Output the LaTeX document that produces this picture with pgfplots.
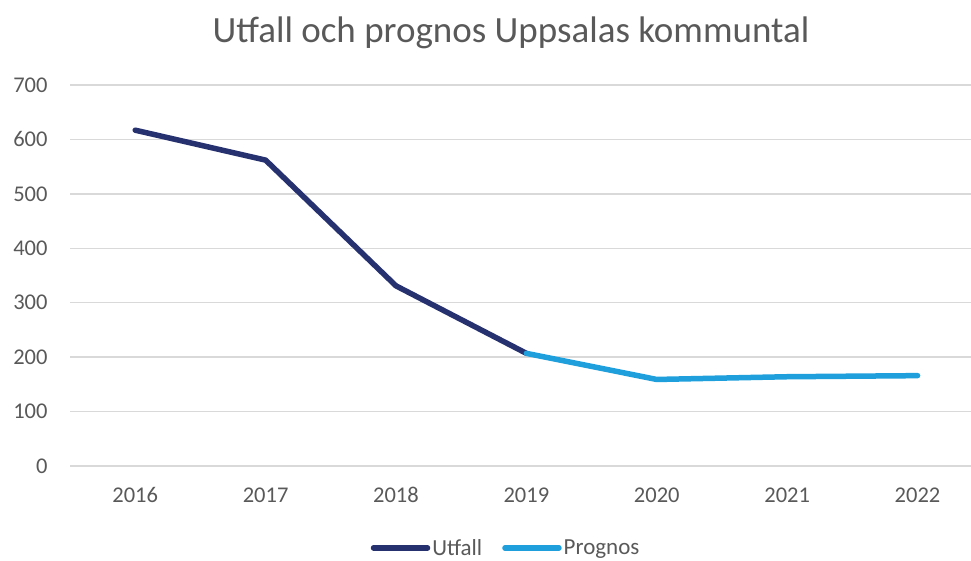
\documentclass[border=0pt]{standalone}
\usepackage{pgfplots}
\pgfplotsset{compat=1.18}
\usepackage{fontspec}
\setmainfont{Carlito}
\definecolor{txt}{HTML}{595959}
\definecolor{gridc}{HTML}{D9D9D9}
\definecolor{navy}{HTML}{263170}
\definecolor{lblue}{HTML}{1F9FDB}
\begin{document}
\begin{tikzpicture}[x=1pt,y=1pt]
\path[use as bounding box] (0,0) rectangle (971,560);
\begin{axis}[
  at={(70pt,94pt)}, anchor=south west,
  scale only axis, width=901pt, height=381pt,
  xmin=-0.5, xmax=6.41, ymin=0, ymax=700,
  xtick={0,...,6}, xticklabels={2016,2017,2018,2019,2020,2021,2022},
  ytick={0,100,...,700},
  xmajorgrids=false, ymajorgrids=true,
  y grid style={draw=gridc, line width=1.5pt},
  axis line style={draw=none},
  axis x line*=bottom,
  x axis line style={draw=gridc, line width=1.5pt},
  major tick length=0pt,
  tick style={draw=none},
  tick label style={font=\fontsize{22.5}{24}\selectfont, text=txt},
  /pgf/number format/assume math mode=true,
  yticklabel style={xshift=-19pt},
  xticklabel style={yshift=-18pt},
  clip=false,
  legend style={at={(0.484,-0.215)}, anchor=center, draw=none, fill=none,
    font=\fontsize{23}{24}\selectfont, text=txt, legend columns=2,
    /tikz/every even column/.append style={column sep=18pt}},
  legend image code/.code={\draw[#1, line cap=round] (0pt,0pt) -- (54pt,0pt);},
]
\addplot[navy, line width=5.5pt, line cap=round, line join=round] coordinates {(0,617) (1,562) (2,331) (3,207)};
\addlegendentry{Utfall}
\addplot[lblue, line width=5.5pt, line cap=round, line join=round] coordinates {(3,207) (4,159) (5,164) (6,166)};
\addlegendentry{Prognos}
\end{axis}
\node[text=txt, font=\fontsize{37}{40}\selectfont] at (511,527) {Utfall och prognos Uppsalas kommuntal};
\end{tikzpicture}
\end{document}
